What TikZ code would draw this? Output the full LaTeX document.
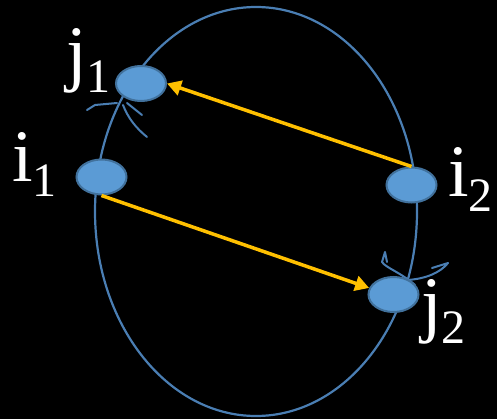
\documentclass[tikz,border=0pt]{standalone}
\usepackage{fontspec}
\setmainfont{Liberation Serif}
\usetikzlibrary{arrows.meta}
\definecolor{ringblue}{HTML}{4A7EB3}
\definecolor{dotfill}{HTML}{5B9BD5}
\definecolor{dotedge}{HTML}{41719C}
\definecolor{arrowgold}{HTML}{FFC000}
\tikzset{
  dot/.style={ellipse, draw=dotedge, fill=dotfill, line width=2pt, minimum width=50pt, minimum height=35pt, inner sep=0pt},
  lbl/.style={anchor=base west, inner sep=0pt, text=white, font=\fontsize{74}{74}\selectfont},
  ring/.style={draw=ringblue, line width=2.2pt},
  swoosh/.style={draw=ringblue, line width=2pt, line cap=round, line join=round},
  link/.style={draw=arrowgold, line width=3.5pt, -{Triangle[length=14pt,width=15pt]}}
}
\usetikzlibrary{shapes.geometric}
\newcommand{\subnum}[1]{\raisebox{-15pt}{\fontsize{48}{48}\selectfont #1}}
\begin{document}
\begin{tikzpicture}[x=1pt,y=-1pt]
\fill[black] (0,0) rectangle (497,419);
\useasboundingbox (0,0) rectangle (497,419);
% big ring
\draw[ring] (256,211.5) ellipse [x radius=161, y radius=204.5];
% swooshes near j1
\draw[swoosh] (87,110) -- (95,105) -- (117,103);
\draw[swoosh] (127,103) -- (142,115);
\draw[swoosh] (123,105) .. controls (128,118) and (136,128) .. (147,137);
% swooshes near j2
\draw[swoosh] (387,262) -- (385,252) -- (382,262) .. controls (386,268) and (400,272) .. (415,285);
\draw[swoosh] (407,280) .. controls (425,279) and (440,273) .. (448,263) -- (432,268);
% dots
\node[dot] (j1) at (141,83.5) {};
\node[dot] (i1) at (101.5,177) {};
\node[dot] (i2) at (411.5,185) {};
\node[dot] (j2) at (393.5,294.5) {};
% arrows
\draw[link] (i2.north) -- (j1.east);
\draw[link] (i1.south) -- (j2.165);
% labels
\node[lbl] (lj1) at (66,78) {j\subnum{1}};
\node[lbl] (li1) at (12,182) {i\subnum{1}};
\node[lbl] (li2) at (448,197) {i\subnum{2}};
\node[lbl] (lj2) at (421,328) {j\subnum{2}};
\end{tikzpicture}
\end{document}
